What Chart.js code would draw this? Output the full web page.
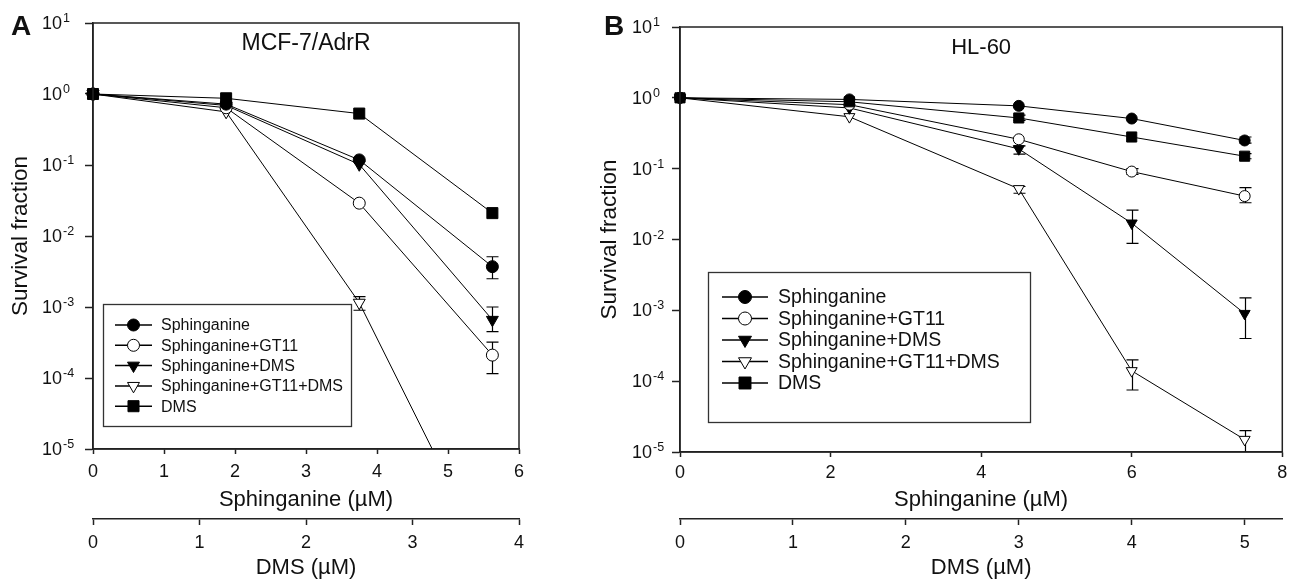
<!DOCTYPE html>
<html lang="en">
<head>
<meta charset="UTF-8">
<title>Survival fraction - MCF-7/AdrR and HL-60</title>
<script src="https://cdn.jsdelivr.net/npm/chart.js"></script>
<style>
    body { margin: 0; background: #fff; width: 1293px; height: 581px; overflow: hidden; position: relative; }
    #chartA { position: absolute; left: 0; top: 0; }
    #chartB { position: absolute; left: 580px; top: 0; }
</style>
</head>
<body>
<canvas id="chartA" width="580" height="581"></canvas>
<canvas id="chartB" width="713" height="581"></canvas>
<script>
    const FONT = '"Liberation Sans", Arial, Helvetica, sans-serif';
    Chart.defaults.font.family = FONT;
    Chart.defaults.color = '#111';

    const seriesLabels = ['Sphinganine', 'Sphinganine+GT11', 'Sphinganine+DMS', 'Sphinganine+GT11+DMS', 'DMS'];
    const decades = [1e-5, 1e-4, 1e-3, 1e-2, 1e-1, 1, 10];
    const decadeExp = ['-5', '-4', '-3', '-2', '-1', '0', '1'];

    // panel A: MCF-7/AdrR
    const sphA = [0, 1.875, 3.75, 5.625];
    const aSph = [1, 0.72, 0.118, 0.0037];
    const aSphGT11 = [1, 0.64, 0.029, 0.00021];
    const aSphDMS = [1, 0.69, 0.102, 0.00066];
    const aSphGT11DMS = [1, 0.56, 0.00115, 2e-7];
    const aDMS = [1, 0.87, 0.53, 0.021];
    const aErrSph = [null, null, null, [0.0025, 0.0051]];
    const aErrSphGT11 = [null, null, null, [0.000115, 0.00032]];
    const aErrSphDMS = [null, null, null, [0.00045, 0.001]];
    const aErrSphGT11DMS = [null, null, [0.0009, 0.0014], null];
    const aErrDMS = [null, null, null, null];
    const sphTicksA = [0, 1, 2, 3, 4, 5, 6];
    const dmsTicksA = [0, 1, 2, 3, 4];

    // panel B: HL-60
    const sphB = [0, 2.25, 4.5, 6, 7.5];
    const bSph = [1, 0.95, 0.77, 0.51, 0.25];
    const bSphGT11 = [1, 0.8, 0.26, 0.091, 0.041];
    const bSphDMS = [1, 0.72, 0.19, 0.017, 0.0009];
    const bSphGT11DMS = [1, 0.54, 0.052, 0.00014, 0.000015];
    const bDMS = [1, 0.88, 0.52, 0.28, 0.15];
    const bErrSph = [null, null, null, null, [0.23, 0.28]];
    const bErrSphGT11 = [null, null, null, [0.083, 0.1], [0.033, 0.054]];
    const bErrSphDMS = [null, null, [0.16, 0.21], [0.0088, 0.026], [0.0004, 0.0015]];
    const bErrSphGT11DMS = [null, null, [0.045, 0.056], [0.000075, 0.0002], [0.00001, 0.00002]];
    const bErrDMS = [null, null, [0.48, 0.57], null, [0.138, 0.163]];
    const sphTicksB = [0, 2, 4, 6, 8];
    const dmsTicksB = [0, 1, 2, 3, 4, 5];

    // marker look for each series
    const markers = [
        { shape: 'circle', fill: '#000' },
        { shape: 'circle', fill: '#fff' },
        { shape: 'triangle', fill: '#000' },
        { shape: 'triangle', fill: '#fff' },
        { shape: 'rect', fill: '#000' }
    ];

    function markerRadius(shape, r) {
        if (shape === 'rect') return r * 1.3;
        if (shape === 'triangle') return r * 1.15;
        return r;
    }

    function drawMarker(ctx, shape, fill, x, y, r) {
        ctx.save();
        ctx.fillStyle = fill;
        ctx.strokeStyle = '#000';
        ctx.lineWidth = 1;
        ctx.beginPath();
        if (shape === 'circle') {
            ctx.arc(x, y, r, 0, Math.PI * 2);
        } else if (shape === 'rect') {
            const s = r * 0.92;
            ctx.rect(x - s, y - s, 2 * s, 2 * s);
        } else {
            const rr = r * 1.15;
            ctx.moveTo(x, y + rr);
            ctx.lineTo(x - rr * 0.866, y - rr * 0.5);
            ctx.lineTo(x + rr * 0.866, y - rr * 0.5);
            ctx.closePath();
        }
        ctx.fill();
        ctx.stroke();
        ctx.restore();
    }

    const panelDecor = {
        id: 'panelDecor',
        beforeDatasetsDraw(chart, args, opts) {
            // error bars
            const ctx = chart.ctx;
            const xs = chart.scales.x, ys = chart.scales.y;
            const area = chart.chartArea;
            ctx.save();
            ctx.strokeStyle = '#000';
            ctx.lineWidth = 1.2;
            opts.errors.forEach((errs, i) => {
                errs.forEach((e, j) => {
                    if (!e) return;
                    const px = Math.round(xs.getPixelForValue(opts.xValues[j])) + 0.5;
                    const y1 = Math.min(area.bottom, ys.getPixelForValue(e[0]));
                    const y2 = Math.max(area.top, ys.getPixelForValue(e[1]));
                    const c = opts.cap / 2;
                    ctx.beginPath();
                    ctx.moveTo(px, y1); ctx.lineTo(px, y2);
                    if (y1 < area.bottom) { ctx.moveTo(px - c, y1); ctx.lineTo(px + c, y1); }
                    ctx.moveTo(px - c, y2); ctx.lineTo(px + c, y2);
                    ctx.stroke();
                });
            });
            ctx.restore();
        },
        afterDraw(chart, args, opts) {
            const ctx = chart.ctx;
            const area = chart.chartArea;
            const ys = chart.scales.y;
            ctx.save();

            // frame round the plot
            ctx.strokeStyle = '#222';
            ctx.lineWidth = 1.5;
            ctx.strokeRect(area.left, area.top, area.right - area.left, area.bottom - area.top);

            // log tick labels 10^n
            ctx.fillStyle = '#111';
            decades.forEach((v, k) => {
                const py = ys.getPixelForValue(v);
                const xr = area.left - opts.labelOff;
                ctx.font = '18px ' + FONT;
                ctx.textAlign = 'right';
                ctx.textBaseline = 'middle';
                ctx.fillText('10', xr, py + 1);
                ctx.font = '12.5px ' + FONT;
                ctx.textAlign = 'left';
                ctx.textBaseline = 'alphabetic';
                ctx.fillText(decadeExp[k], xr + 1, py - 1);
            });

            // cell line title
            ctx.font = opts.titleSize + 'px ' + FONT;
            ctx.textAlign = 'center';
            ctx.textBaseline = 'alphabetic';
            ctx.fillText(opts.title, (area.left + area.right) / 2, area.top + 27);

            // panel letter
            ctx.font = 'bold 28px ' + FONT;
            ctx.textAlign = 'left';
            ctx.fillText(opts.letter, opts.letterX, 35);

            // legend box
            const lg = opts.legend;
            ctx.strokeStyle = '#333';
            ctx.lineWidth = 1.3;
            ctx.strokeRect(lg.left + 0.5, lg.top + 0.5, lg.right - lg.left, lg.bottom - lg.top);
            ctx.font = lg.font + 'px ' + FONT;
            ctx.textBaseline = 'middle';
            ctx.textAlign = 'left';
            seriesLabels.forEach((label, i) => {
                const ry = lg.firstY + i * lg.step;
                ctx.strokeStyle = '#000';
                ctx.lineWidth = 1.5;
                ctx.beginPath();
                ctx.moveTo(lg.lineX0, ry); ctx.lineTo(lg.lineX1, ry);
                ctx.stroke();
                drawMarker(ctx, markers[i].shape, markers[i].fill, (lg.lineX0 + lg.lineX1) / 2, ry, lg.r);
                ctx.fillStyle = '#111';
                ctx.fillText(label, lg.textX, ry + 1);
            });
            ctx.restore();
        }
    };

    function buildPanel(canvasId, cfg) {
        const datasets = seriesLabels.map((label, i) => ({
            label: label,
            data: cfg.x.map((x, j) => ({ x: x, y: cfg.y[i][j] })),
            borderColor: '#000',
            borderWidth: 1,
            tension: 0,
            pointStyle: markers[i].shape,
            pointRotation: markers[i].shape === 'triangle' ? 180 : 0,
            pointRadius: markerRadius(markers[i].shape, cfg.r),
            pointBackgroundColor: markers[i].fill,
            pointBorderColor: '#000',
            pointBorderWidth: 1,
            clip: { left: 12, top: 12, right: 12, bottom: 0 },
            order: i === 4 ? -1 : i
        }));

        const tickGrid = (len) => ({
            display: true, drawOnChartArea: false, drawTicks: true,
            tickLength: len, tickColor: '#222', tickWidth: 1.5
        });

        return new Chart(document.getElementById(canvasId), {
            type: 'line',
            data: { datasets: datasets },
            options: {
                responsive: false,
                animation: false,
                events: [],
                layout: { padding: { top: cfg.top, right: cfg.right, left: 0, bottom: 0 } },
                plugins: {
                    legend: { display: false },
                    tooltip: { enabled: false },
                    panelDecor: {
                        xValues: cfg.x,
                        errors: cfg.err,
                        cap: 12,
                        labelOff: cfg.labelOff,
                        title: cfg.title,
                        titleSize: cfg.titleSize,
                        letter: cfg.letter,
                        letterX: cfg.letterX,
                        legend: cfg.legend
                    }
                },
                scales: {
                    x: {
                        type: 'linear', position: 'bottom', weight: 0,
                        min: 0, max: cfg.sphMax,
                        afterBuildTicks: s => { s.ticks = cfg.sphTicks.map(v => ({ value: v })); },
                        afterFit: s => { s.height = cfg.xHeight; },
                        grid: tickGrid(5),
                        border: { display: true, color: '#222', width: 1.5 },
                        ticks: { font: { size: 18 }, color: '#111', padding: cfg.xPad, maxRotation: 0 },
                        title: { display: true, text: 'Sphinganine (\u00b5M)', font: { size: 22 }, color: '#111', padding: { top: 0, bottom: 6 } }
                    },
                    xd: {
                        type: 'linear', position: 'bottom', weight: 1,
                        min: 0, max: cfg.dmsMax,
                        afterBuildTicks: s => { s.ticks = cfg.dmsTicks.map(v => ({ value: v })); },
                        afterFit: s => { s.height = 62; },
                        grid: tickGrid(6),
                        border: { display: true, color: '#222', width: 1.5 },
                        ticks: { font: { size: 18 }, color: '#111', padding: 7, maxRotation: 0 },
                        title: { display: true, text: 'DMS (\u00b5M)', font: { size: 22 }, color: '#111', padding: { top: 0, bottom: 0 } }
                    },
                    y: {
                        type: 'logarithmic', position: 'left',
                        min: 1e-5, max: 10,
                        afterBuildTicks: s => { s.ticks = decades.map(v => ({ value: v })); },
                        afterFit: s => { s.width = cfg.yWidth; },
                        grid: tickGrid(8),
                        border: { display: true, color: '#222', width: 1.5 },
                        ticks: { callback: () => '', padding: 0 },
                        title: { display: true, text: 'Survival fraction', font: { size: 22.5 }, color: '#111', padding: { top: cfg.yTitlePad, bottom: 0 } }
                    }
                }
            },
            plugins: [panelDecor]
        });
    }

    buildPanel('chartA', {
        x: sphA,
        y: [aSph, aSphGT11, aSphDMS, aSphGT11DMS, aDMS],
        err: [aErrSph, aErrSphGT11, aErrSphDMS, aErrSphGT11DMS, aErrDMS],
        r: 6,
        sphMax: 6, sphTicks: sphTicksA,
        dmsMax: 4, dmsTicks: dmsTicksA,
        top: 23, right: 61, yWidth: 93, xHeight: 70, xPad: 7,
        yTitlePad: 7, labelOff: 31,
        title: 'MCF-7/AdrR', titleSize: 23, letter: 'A', letterX: 11,
        legend: { left: 103, top: 304, right: 351, bottom: 426, firstY: 325, step: 20.3,
                  lineX0: 115, lineX1: 152, textX: 161, font: 16, r: 6 }
    });

    buildPanel('chartB', {
        x: sphB,
        y: [bSph, bSphGT11, bSphDMS, bSphGT11DMS, bDMS],
        err: [bErrSph, bErrSphGT11, bErrSphDMS, bErrSphGT11DMS, bErrDMS],
        r: 5.5,
        sphMax: 8, sphTicks: sphTicksB,
        dmsMax: 16 / 3, dmsTicks: dmsTicksB,
        top: 27, right: 5, yWidth: 100, xHeight: 67, xPad: 5.7,
        yTitlePad: 16.5, labelOff: 28,
        title: 'HL-60', titleSize: 22, letter: 'B', letterX: 24,
        legend: { left: 128, top: 272, right: 450, bottom: 422, firstY: 297, step: 21.5,
                  lineX0: 142, lineX1: 188, textX: 198, font: 19.5, r: 6.5 }
    });
</script>
</body>
</html>
